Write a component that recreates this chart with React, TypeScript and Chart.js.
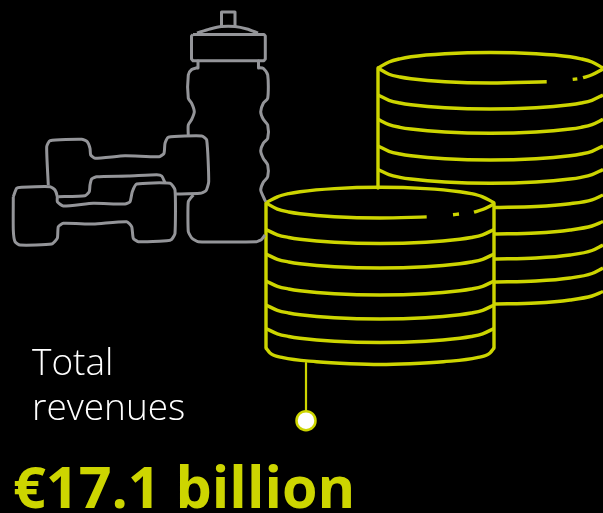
import React, { useEffect, useRef } from "react";
import { Chart, registerables } from "chart.js";

Chart.register(...registerables);

type Pt = [number, number];

const GREY = "#949599";
const LIME = "#cdd500";

const titleLines = ["Total", "revenues"];
const headline = "€17.1 billion";

const bottleNozzle: Pt[] = [[221.5, 26], [221.5, 12], [235, 12], [235, 26]];
const bottleDome: Pt[] = [[197, 33], [210, 29], [221.5, 26.5], [235, 26.5], [247, 29], [258, 33]];
const bottleCap: Pt[] = [[193, 34.5], [264, 34.5], [265.3, 36], [265.3, 59], [264, 60.7], [193, 60.7], [191.5, 59], [191.5, 36], [193, 34.5]];
const bottleNeckL: Pt[] = [[198, 61], [198, 68]];
const bottleNeckR: Pt[] = [[258.5, 61], [258.5, 68]];
const bottleUpperL: Pt[] = [[198, 67.5], [191.7, 69.5], [188.3, 75], [188.3, 98.3], [191.7, 103.3], [194.3, 111.7], [191.7, 119.3], [188.3, 125], [188.3, 136]];
const bottleLowerL: Pt[] = [[193.3, 195], [188.3, 201.7], [188.3, 231.7], [192, 238.3], [198.3, 241.7], [256.7, 241.7], [261.7, 239.3], [265, 235]];
const bottleR: Pt[] = [[258.5, 67.5], [263.3, 68.3], [267.7, 75], [267.7, 98.3], [263.3, 103.3], [260.7, 111.7], [263.3, 119.3], [267.7, 125], [267.7, 138.3], [263.3, 143.3], [260.7, 150.7], [263.3, 158.3], [267.7, 165], [267.7, 176.7], [263.3, 182.3], [260.7, 190], [263.3, 196.7], [265.7, 201.7]];

const dumbbellBackTop: Pt[] = [[48.3, 185], [46.7, 146.7], [50, 140.7], [81.7, 139.3], [87.3, 141.7], [90, 148.3], [90.7, 155], [95, 158.3], [125, 155.7], [159.3, 156.7], [164, 153.3], [165, 143.3], [168.3, 137.3], [201.7, 136], [206.7, 140], [208.7, 181.7], [206, 190.7], [200, 193.3], [175, 194]];
const dumbbellBackInner: Pt[] = [[165, 182.7], [161.7, 176], [156.7, 174.7], [128.3, 176], [96.7, 176.7], [91.7, 179], [90, 185], [89.3, 191.7], [85, 195.7], [58.3, 196.7]];
const dumbbellFront: Pt[] = [[13.3, 196.7], [16.7, 188.3], [21.7, 187.3], [50, 186.7], [55, 190], [57.3, 196.7], [57.3, 201.7], [63.3, 206], [93.3, 203.3], [125, 204], [130, 201.7], [132.3, 191.7], [136.7, 184], [170, 183.3], [175, 190], [175, 233.3], [171.7, 239.3], [166.7, 240.7], [138.3, 241.7], [133.3, 238.3], [131.7, 226.7], [126.7, 221.7], [93.3, 224], [63.3, 223.3], [58.3, 226.7], [57.3, 238.3], [51.7, 244], [20, 245], [15, 241.7], [13.3, 230], [13.3, 196.7]];

const frontX = [266, 277.4, 288.8, 300, 334.4, 380, 425.6, 459.8, 471.2, 482.6, 494];
const frontTopY = [202.7, 196.8, 193.6, 191.7, 188.6, 187.3, 188.6, 191.7, 193.6, 196.8, 202.7];
const frontArc2 = [229.5, 234.8, 237.5, 239.2, 242.2, 243.5, 242.2, 239.2, 237.5, 234.8, 229.5];
const frontArc3 = [254, 259.3, 262, 263.7, 266.7, 268, 266.7, 263.7, 262, 259.3, 254];
const frontArc4 = [281, 286.3, 289, 290.7, 293.7, 295, 293.7, 290.7, 289, 286.3, 281];
const frontArc5 = [305, 310.3, 313, 314.7, 317.7, 319, 317.7, 314.7, 313, 310.3, 305];
const frontArc6 = [328.5, 333.8, 336.5, 338.2, 341.2, 342.5, 341.2, 338.2, 336.5, 333.8, 328.5];
const frontBaseX = [266, 270, 283, 316.7, 350, 380, 410, 443.3, 477, 490, 494];
const frontBaseY = [348, 353, 357.7, 361.7, 363.7, 364.5, 363.7, 361.7, 357.7, 353, 348];
const frontRimA: Pt[] = [[266, 203], [277.4, 209.1], [288.8, 212], [300, 213.7], [334.4, 216.7], [380, 218], [426.7, 216.9]];
const frontRimB: Pt[] = [[453, 214.7], [459, 214]];
const frontRimC: Pt[] = [[474, 212.2], [482.6, 209.5], [494, 204]];
const frontSideL: Pt[] = [[266, 203], [266, 348]];
const frontSideR: Pt[] = [[494, 203], [494, 348]];

const backX = [378, 389, 400, 411, 445, 490.5, 536, 570, 581, 592, 603];
const backTopY = [68, 62, 58.8, 56.8, 53.8, 52.5, 53.8, 56.8, 58.8, 62, 68];
const backArc2 = [95, 100.3, 103, 104.7, 107.7, 109, 107.7, 104.7, 103, 100.3, 95];
const backArc3 = [119.3, 124.6, 127.3, 129, 132, 133.3, 132, 129, 127.3, 124.6, 119.3];
const backArc4 = [146, 151.3, 154, 155.7, 158.7, 160, 158.7, 155.7, 154, 151.3, 146];
const backArc5 = [169.5, 174.6, 177.3, 179, 182, 183.3, 182, 179, 177.3, 174.6, 169.5];
const backRimA: Pt[] = [[378, 68], [389, 74.2], [400, 77], [411, 78.7], [445, 81.7], [490.5, 83], [546.7, 81.7]];
const backRimB: Pt[] = [[572.7, 79.4], [577.3, 78.9]];
const backRimC: Pt[] = [[583, 77.7], [592, 74.8], [603, 69]];
const backSideL: Pt[] = [[378, 68], [378, 188]];
const backStubX = [494, 536, 570, 592, 603];
const backStub6 = [207.5, 206.5, 203.7, 199.8, 195];
const backStub7 = [234, 233, 230, 226, 221.5];
const backStub8 = [259, 258, 255, 250.5, 245];
const backStub9 = [282, 281, 278, 273.5, 268];
const backStub10 = [304, 303, 300, 296, 291.5];

const connector: Pt[] = [[306, 363], [306, 411]];
const marker: Pt[] = [[306, 420.7]];

const zip = (xs: number[], ys: number[]) => xs.map((x, i) => ({ x, y: ys[i] }));
const pts = (p: Pt[]) => p.map(([x, y]) => ({ x, y }));
const stroke = (data: { x: number; y: number }[], color: string, width: number, tension: number, monotone = false) => ({
  data,
  showLine: true,
  borderColor: color,
  borderWidth: width,
  tension,
  cubicInterpolationMode: monotone ? ("monotone" as const) : ("default" as const),
  pointRadius: 0,
  borderCapStyle: "butt" as const,
  borderJoinStyle: "round" as const,
});

export default function App() {
  const ref = useRef<HTMLCanvasElement>(null);

  useEffect(() => {
    if (!ref.current) return;
    const greyShapes = [bottleNozzle, bottleDome, bottleCap, bottleNeckL, bottleNeckR, bottleUpperL, bottleLowerL, bottleR, dumbbellBackTop, dumbbellBackInner, dumbbellFront];
    const greyTension = [0, 0.2, 0, 0, 0, 0.25, 0.15, 0.25, 0.18, 0.18, 0.18];
    const limeFull = [
      zip(backX, backTopY), zip(backX, backArc2), zip(backX, backArc3), zip(backX, backArc4), zip(backX, backArc5),
      pts(backRimA), pts(backRimB), pts(backRimC),
      zip(backStubX, backStub6), zip(backStubX, backStub7), zip(backStubX, backStub8), zip(backStubX, backStub9), zip(backStubX, backStub10),
      zip(frontX, frontTopY), zip(frontX, frontArc2), zip(frontX, frontArc3), zip(frontX, frontArc4), zip(frontX, frontArc5), zip(frontX, frontArc6), zip(frontBaseX, frontBaseY),
      pts(frontRimA), pts(frontRimB), pts(frontRimC),
    ];
    const chart = new Chart(ref.current, {
      type: "scatter",
      data: {
        datasets: [
          ...greyShapes.map((s, i) => stroke(pts(s), GREY, 3, greyTension[i])),
          ...limeFull.map((d) => stroke(d, LIME, 3.4, 0, true)),
          stroke(pts(backSideL), LIME, 3.4, 0),
          stroke(pts(frontSideL), LIME, 3.4, 0),
          stroke(pts(frontSideR), LIME, 3.4, 0),
          stroke(pts(connector), LIME, 2.2, 0),
          {
            data: pts(marker),
            pointRadius: 9.5,
            pointBackgroundColor: "#ffffff",
            pointBorderColor: LIME,
            pointBorderWidth: 2.5,
            showLine: false,
          },
        ],
      },
      options: {
        responsive: false,
        animation: false,
        layout: { padding: 0, autoPadding: false },
        plugins: { legend: { display: false }, tooltip: { enabled: false } },
        scales: {
          x: { type: "linear", display: false, min: 0, max: 603 },
          y: { type: "linear", display: false, min: 0, max: 513, reverse: true },
        },
      },
    });
    return () => chart.destroy();
  }, []);

  return (
    <div style={{ position: "fixed", left: 0, top: 0, width: 603, height: 513, background: "#000", overflow: "hidden" }}>
      <canvas ref={ref} width={603} height={513} style={{ position: "absolute", left: 0, top: 0, display: "block" }} />
      {titleLines.map((t, i) => (
        <div
          key={t}
          style={{
            position: "absolute",
            left: 32,
            top: 336 + i * 45,
            fontFamily: "'Open Sans'",
            fontWeight: 300,
            fontSize: 37,
            lineHeight: "50px",
            color: "#ffffff",
            whiteSpace: "nowrap",
          }}
        >
          {t}
        </div>
      ))}
      <div
        style={{
          position: "absolute",
          left: 13,
          top: 445.5,
          fontFamily: "'Open Sans'",
          fontWeight: 700,
          fontSize: 57.4,
          lineHeight: "80px",
          color: LIME,
          whiteSpace: "nowrap",
        }}
      >
        {headline}
      </div>
    </div>
  );
}
